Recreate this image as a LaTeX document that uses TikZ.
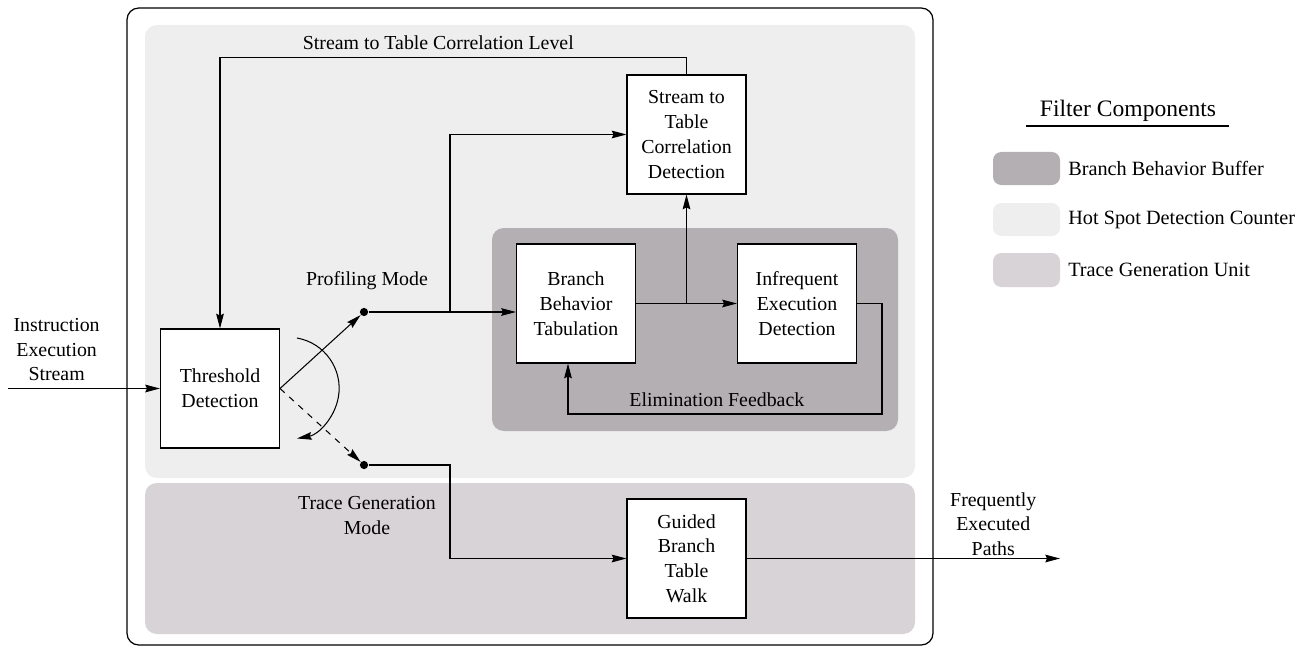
\documentclass[tikz,border=0pt]{standalone}
\usepackage{fontspec}
\setmainfont{Liberation Serif}
\usepackage{tikz}
\usetikzlibrary{arrows.meta, positioning}
\definecolor{hotspot}{RGB}{238,238,238}
\definecolor{tracegen}{RGB}{216,211,215}
\definecolor{bbuffer}{RGB}{180,175,178}
\tikzset{
    block/.style={draw, fill=white, line width=0.6pt, minimum width=2.02cm, minimum height=2.02cm, align=center, inner sep=2pt},
    region/.style={rounded corners=0.2cm},
    junction/.style={circle, fill=black, inner sep=0pt, minimum size=0.14cm},
    flow/.style={line width=0.5pt, -{Stealth[length=2.5mm, width=1.3mm, inset=0.3mm]}},
    flowlabel/.style={align=center},
    legendtext/.style={anchor=west, font=\fontsize{9.8}{12}\selectfont}
}
\begin{document}
\begin{tikzpicture}[x=0.017cm, y=-0.017cm, font=\fontsize{9.6}{12}\selectfont]
        \useasboundingbox (0,0) rectangle (1307,649);

        % filter regions
        \fill[hotspot, region] (145,25) rectangle (915,478);
        \fill[tracegen, region] (145,483) rectangle (915,634);
        \fill[bbuffer, region] (492,228) rectangle (898,431);
        \draw[region, line width=0.6pt] (127,8) rectangle (933,645);

        \node[block] (thr) at (220,388.5) {Threshold\\Detection};
        \node[block] (stc) at (686.5,134.5) {Stream to\\Table\\Correlation\\Detection};
        \node[block] (bbt) at (576,303.5) {Branch\\Behavior\\Tabulation};
        \node[block] (ied) at (797,303.5) {Infrequent\\Execution\\Detection};
        \node[block] (gbw) at (686.5,558.5) {Guided\\Branch\\Table\\Walk};

        \node[junction, label={[label distance=0.17cm, xshift=0.05cm]above:Profiling Mode}] (prof) at (364,312) {};
        \node[junction, label={[label distance=0.33cm, align=center, xshift=0.05cm]below:Trace Generation\\Mode}] (trace) at (364,465) {};

        \coordinate (in) at (8,388.5);
        \coordinate (split) at (450,312);
        \coordinate (fb) at (882,414);
        \coordinate (out) at (1060,558.5);

        \draw[flow] (in) -- node[pos=0.32, above, flowlabel] {Instruction\\Execution\\Stream} (thr.west);
        \draw[flow] (stc.north) -- ++(0,-17) -| node[pos=0.266, above] {Stream to Table Correlation Level} (thr.north);

        \draw[flow] (thr.east) -- (prof);
        \draw[flow] (prof) -- (bbt.west |- prof);
        \draw[flow] (split) |- (stc.west);
        \draw[flow, dash pattern=on 3pt off 3pt] (thr.east) -- (trace);
        \draw[flow] (trace) -- (trace -| split) |- (gbw.west);
        \draw[flow] (297,338) arc[start angle=80, end angle=-80, radius=0.867cm];

        \draw[flow] (bbt) -- (ied);
        \draw[flow] (stc.south |- bbt.east) -- (stc.south);
        \draw[flow] (ied.east) -| (fb) -| node[pos=0.263, above] {Elimination Feedback} ([xshift=-0.136cm]bbt.south);

        \draw[flow] (gbw.east) -- node[pos=0.787, above, inner sep=1pt, flowlabel] {Frequently\\Executed\\Paths} (out);

        % legend
        \node[font=\fontsize{11.4}{14}\selectfont] (legtitle) at (1128,111) {Filter Components};
        \draw[line width=0.6pt] (1026,126) -- (1229,126);
        \fill[bbuffer, rounded corners=0.14cm] (993,152) rectangle (1060,185);
        \fill[hotspot, rounded corners=0.14cm] (993,203) rectangle (1060,236);
        \fill[tracegen, rounded corners=0.14cm] (993,253) rectangle (1060,287);
        \node[legendtext] (legbuf) at (1061,168.5) {Branch Behavior Buffer};
        \node[legendtext] (leghot) at (1061,219.5) {Hot Spot Detection Counter};
        \node[legendtext] (legtrace) at (1061,270) {Trace Generation Unit};
    \end{tikzpicture}
\end{document}
